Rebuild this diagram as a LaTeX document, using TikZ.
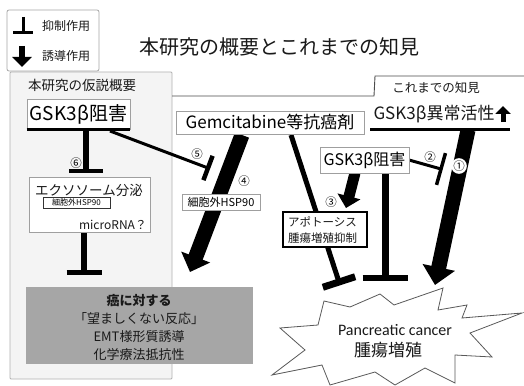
\documentclass[tikz,border=0pt]{standalone}
\usepackage{fontspec}
\setmainfont{Noto Sans CJK JP}
\newfontfamily\carl{Carlito}
\usetikzlibrary{arrows.meta,calc}
\pgfdeclarelayer{back}
\pgfdeclarelayer{conn}
\pgfsetlayers{back,conn,main}
\newcommand{\fs}[1]{\fontsize{#1}{#1}\selectfont}
\tikzset{
  box/.style={draw=gray!75, fill=white, line width=0.8pt, inner sep=0pt},
  txt/.style={inner sep=0pt, text=black!90},
  num/.style={inner sep=0.3pt, font=\fs{11.5}},
  blockarrow/.style={line width=#1, draw=black},
  inhib/.style={line width=#1, draw=black},
}
\begin{document}
\begin{tikzpicture}[x=1pt,y=-1pt]
\useasboundingbox (0,0) rectangle (524,385);

% ---------- background panels ----------
\begin{pgfonlayer}{back}
\fill[white] (0,0) rectangle (524,385);
\node[draw=gray!60, fill=gray!9, line width=0.8pt, minimum width=162pt, minimum height=307pt, inner sep=0pt, rounded corners=1pt] (hyp) at (91,225.5) {};
\draw[gray!60!black, line width=0.9pt] (172,96) -- (374,96) -- (375,76) -- (524,76);
\node[draw=gray!70, fill=white, line width=0.8pt, minimum width=92pt, minimum height=61pt, inner sep=0pt, rounded corners=2pt] (leg) at (53,40.5) {};
\end{pgfonlayer}

% legend contents
\draw[line width=3pt] (23,17) -- (23,31);
\draw[line width=3pt] (13,32.5) -- (33,32.5);
\draw[line width=6.5pt, -{Triangle[width=19pt,length=10pt]}] (22,46) -- (22,67);
\node[txt, font=\fs{12}] (lgI) at (66,26) {抑制作用};
\node[txt, font=\fs{12}] (lgA) at (66,56) {誘導作用};

% title
\node[txt, font=\fs{20}] (title) at (279,47) {本研究の概要とこれまでの知見};
\node[txt, font=\fs{13.5}] (hypT) at (82,85) {本研究の仮説概要};
\node[txt, font=\fs{12.5}] (knownT) at (436,88) {これまでの知見};

% ---------- boxes ----------
\node[box, minimum width=103pt, minimum height=30pt, font=\fs{19}] (gskL) at (78.5,114) {GSK3β阻害};
\draw[line width=3pt] (gskL.south west) -- (gskL.south east);

\node[box, minimum width=121pt, minimum height=55pt] (exo) at (89.5,204.5) {};
\node[txt, font=\fs{13.5}] (exoT) at (89,190) {エクソソーム分泌};
\node[draw=black!80, fill=white, line width=0.6pt, minimum width=67pt, minimum height=11pt, inner sep=0pt, font=\fs{8}] (hspA) at (76.5,202.5) {細胞外HSP90};
\node[txt, font=\fs{12}] (mir) at (113,225) {microRNA？};

\node[fill=black!35, minimum width=227pt, minimum height=77pt, inner sep=0pt] (bad) at (139.5,325.5) {};
\node[txt, font=\fontsize{13}{18}\selectfont, align=center] (badT) at (139,327) {{\bfseries 癌に対する}\\「望ましくない反応」\\EMT様形質誘導\\化学療法抵抗性};

\node[box, minimum width=188pt, minimum height=23pt, font=\fs{17}] (gem) at (270,122.5) {Gemcitabine等抗癌剤};

\node[txt, font=\fs{17}] (gskU) at (434,114) {GSK3β異常活性};
\draw[line width=3pt] (370,129) -- (510,129);
\draw[line width=5pt, -{Triangle[width=15pt,length=8pt]}] (503,122) -- (503,106);

\node[box, minimum width=89pt, minimum height=26pt, font=\fs{16}] (gskM) at (364.5,160) {GSK3β阻害};

\node[draw=black, fill=white, line width=2pt, minimum width=84pt, minimum height=35pt, inner sep=0pt] (apo) at (325,229.5) {};
\node[txt, anchor=west, font=\fs{11.5}] (apo1) at (288,222) {アポトーシス};
\node[txt, anchor=west, font=\fs{11.5}] (apo2) at (288,238) {腫瘍増殖抑制};

\node[box, minimum width=78pt, minimum height=16pt, font=\fs{11}] (hspB) at (221,202) {細胞外HSP90};

% pancreatic cancer starburst
\draw[gray!70!black, fill=white, line width=0.8pt]
  (324,301) -- (350,307) -- (380,294) -- (394,305) -- (443,288) -- (438,310)
  -- (467,305) -- (462,318) -- (522,313) -- (470,333) -- (492,357) -- (455,355)
  -- (455,383) -- (425,368) -- (395,385) -- (375,372) -- (330,385) -- (322,365)
  -- (272,375) -- (305,350) -- (280,328) -- (318,325) -- cycle;
\node[txt, font=\carl\fs{16}] (pc) at (395,330) {Pancreatic cancer};
\node[txt, font=\fs{17}] (pc2) at (388,350) {腫瘍増殖};

% ---------- connector endpoints ----------
\coordinate (s6) at (86,130);   \coordinate (e6) at (86,171);
\coordinate (sx) at (84,232);   \coordinate (ex) at (84,272);
\coordinate (s4) at (242,135);  \coordinate (e4) at (190,272);
\coordinate (s5) at (110,131);  \coordinate (e5) at (208,168);
\coordinate (sg) at (291,135);  \coordinate (eg) at (339,282);
\coordinate (s3) at (355,173);  \coordinate (e3) at (346,208);
\coordinate (sm) at (385,173);  \coordinate (em) at (385,278);
\coordinate (s2) at (409,160);  \coordinate (e2) at (441,169);
\coordinate (s1) at (468,130);  \coordinate (e1) at (435,285);

\begin{pgfonlayer}{conn}
% 6
\draw[inhib=6pt] (s6) -- (e6);
\draw[line width=4pt] ($(e6)!17pt!90:(s6)$) -- ($(e6)!17pt!-90:(s6)$);
% exosome -> bad
\draw[inhib=6pt] (sx) -- (ex);
\draw[line width=5pt] ($(ex)!17.5pt!90:(sx)$) -- ($(ex)!17.5pt!-90:(sx)$);
% 4
\draw[blockarrow=15pt, -{Triangle[width=30pt,length=16pt]}] (s4) -- (e4);
% 5
\draw[inhib=3pt] (s5) -- (e5);
\draw[line width=4.5pt] ($(e5)!13pt!90:(s5)$) -- ($(e5)!13pt!-90:(s5)$);
% gem -> cancer
\draw[inhib=5pt] (sg) -- (eg);
\draw[line width=7pt] ($(eg)!17pt!90:(sg)$) -- ($(eg)!17pt!-90:(sg)$);
% 3
\draw[blockarrow=11pt, -{Triangle[width=23pt,length=12pt]}] (s3) -- (e3);
% middle vertical
\draw[inhib=7pt] (sm) -- (em);
\draw[line width=6pt] ($(em)!22.5pt!90:(sm)$) -- ($(em)!22.5pt!-90:(sm)$);
% 2
\draw[inhib=3pt] (s2) -- (e2);
\draw[line width=3.5pt] ($(e2)!16.5pt!90:(s2)$) -- ($(e2)!16.5pt!-90:(s2)$);
% 1
\draw[blockarrow=15pt, -{Triangle[width=32pt,length=18pt]}] (s1) -- (e1);
\end{pgfonlayer}

% numbers
\node[num] (n6) at (76,163) {⑥};
\node[num] (n5) at (197,154) {⑤};
\node[num] (n4) at (244,181) {④};
\node[num] (n3) at (331,202) {③};
\node[num] (n2) at (430,157) {②};
\node[num, fill=white, circle, inner sep=0pt] (n1) at (459,166) {①};
\end{tikzpicture}
\end{document}
